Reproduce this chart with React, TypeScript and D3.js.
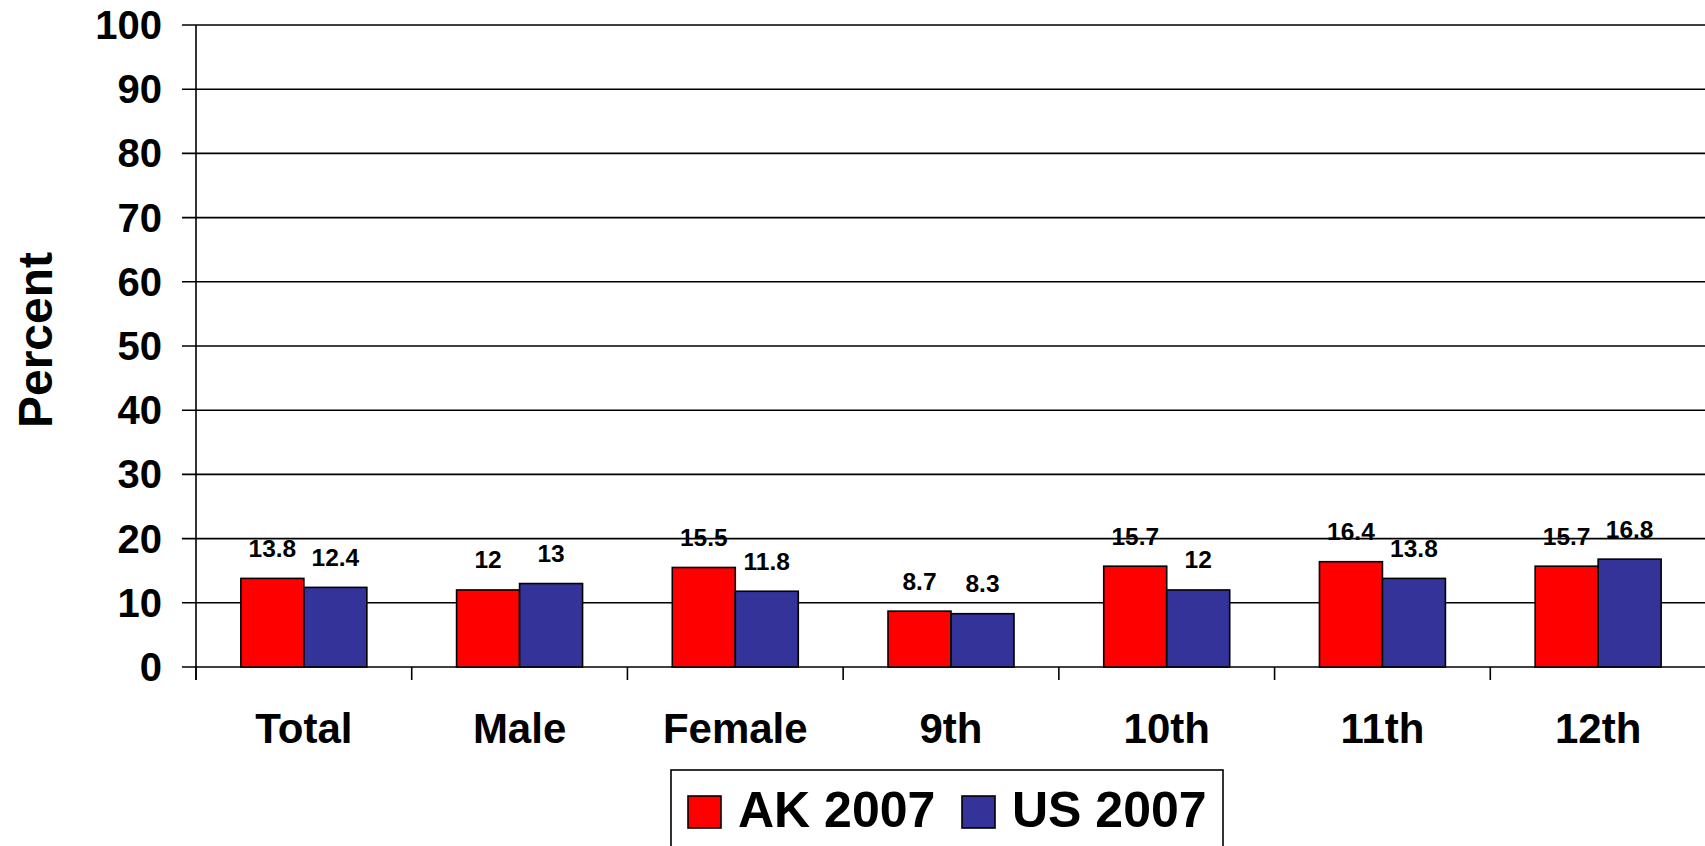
import React, { useEffect, useRef } from 'react'
import * as d3 from 'd3'

const categories = ['Total', 'Male', 'Female', '9th', '10th', '11th', '12th']
const seriesNames = ['AK 2007', 'US 2007']
const akValues = [13.8, 12, 15.5, 8.7, 15.7, 16.4, 15.7]
const usValues = [12.4, 13, 11.8, 8.3, 12, 13.8, 16.8]
const yTicks = [0, 10, 20, 30, 40, 50, 60, 70, 80, 90, 100]
const colors = ['#ff0000', '#333399']

const W = 1705
const H = 846
const FONT = 'Liberation Sans, Arial, Helvetica, sans-serif'

export default function App () {
	const ref = useRef<SVGSVGElement | null>(null)

	useEffect(() => {
		document.body.style.margin = '0'
		document.body.style.overflow = 'hidden'

		const svg = d3.select(ref.current)
		svg.selectAll('*').remove()

		const left = 196
		const right = 1706
		const top = 25
		const bottom = 667

		const x = d3.scaleBand()
			.domain(categories)
			.range([left, right])
			.paddingInner(0.416)
			.paddingOuter(0.208)

		const xs = d3.scaleBand()
			.domain(seriesNames)
			.range([0, x.bandwidth()])

		const y = d3.scaleLinear()
			.domain([0, 100])
			.range([bottom, top])

		// gridlines + y ticks
		const grid = svg.append('g')
		grid.selectAll('line')
			.data(yTicks)
			.enter()
			.append('line')
				.attr('x1', left - 14)
				.attr('x2', W)
				.attr('y1', d => y(d))
				.attr('y2', d => y(d))
				.attr('stroke', '#000')
				.attr('stroke-width', 1.6)

		grid.selectAll('text')
			.data(yTicks)
			.enter()
			.append('text')
				.attr('x', 162)
				.attr('y', d => y(d) + 14)
				.attr('text-anchor', 'end')
				.attr('font-family', FONT)
				.attr('font-weight', 'bold')
				.attr('font-size', 40)
				.text(d => d)

		// y axis line
		svg.append('line')
			.attr('x1', left).attr('x2', left)
			.attr('y1', top).attr('y2', bottom + 13)
			.attr('stroke', '#000')
			.attr('stroke-width', 1.6)

		// category ticks
		const step = x.step()
		svg.append('g')
			.selectAll('line')
			.data(d3.range(categories.length + 1))
			.enter()
			.append('line')
				.attr('x1', i => left + i * step)
				.attr('x2', i => left + i * step)
				.attr('y1', bottom)
				.attr('y2', bottom + 13)
				.attr('stroke', '#000')
				.attr('stroke-width', 1.6)

		const rows = categories.map((c, i) => [
			{ cat: c, s: seriesNames[0], v: akValues[i], color: colors[0] },
			{ cat: c, s: seriesNames[1], v: usValues[i], color: colors[1] }
		]).flat()

		// bars
		svg.append('g')
			.selectAll('rect')
			.data(rows)
			.enter()
			.append('rect')
				.attr('x', d => x(d.cat)! + xs(d.s)!)
				.attr('y', d => y(d.v))
				.attr('width', xs.bandwidth())
				.attr('height', d => bottom - y(d.v))
				.attr('fill', d => d.color)
				.attr('stroke', '#000')
				.attr('stroke-width', 1.6)

		// value labels
		svg.append('g')
			.selectAll('text')
			.data(rows)
			.enter()
			.append('text')
				.attr('x', d => x(d.cat)! + xs(d.s)! + xs.bandwidth() / 2)
				.attr('y', d => y(d.v) - 21.5)
				.attr('text-anchor', 'middle')
				.attr('font-family', FONT)
				.attr('font-weight', 'bold')
				.attr('font-size', 24.5)
				.text(d => d.v)

		// category labels
		svg.append('g')
			.selectAll('text')
			.data(categories)
			.enter()
			.append('text')
				.attr('x', d => x(d)! + x.bandwidth() / 2)
				.attr('y', 743)
				.attr('text-anchor', 'middle')
				.attr('font-family', FONT)
				.attr('font-weight', 'bold')
				.attr('font-size', 42)
				.text(d => d)

		// y title
		svg.append('text')
			.attr('transform', 'translate(52, 340) rotate(-90)')
			.attr('text-anchor', 'middle')
			.attr('font-family', FONT)
			.attr('font-weight', 'bold')
			.attr('font-size', 48)
			.text('Percent')

		// legend
		const legend = svg.append('g')
		legend.append('rect')
			.attr('x', 671).attr('y', 770)
			.attr('width', 552).attr('height', 100)
			.attr('fill', '#fff')
			.attr('stroke', '#000')
			.attr('stroke-width', 1.6)

		const items = legend.selectAll('g.item')
			.data(seriesNames)
			.enter()
			.append('g')
				.attr('class', 'item')
				.attr('transform', (d, i) => `translate(${i === 0 ? 688 : 962}, 796)`)

		items.append('rect')
			.attr('width', 33)
			.attr('height', 32)
			.attr('fill', (d, i) => colors[i])
			.attr('stroke', '#000')
			.attr('stroke-width', 1.6)

		items.append('text')
			.attr('x', 50)
			.attr('y', 31)
			.attr('font-family', FONT)
			.attr('font-weight', 'bold')
			.attr('font-size', 50)
			.text(d => d)
	}, [])

	return (
		<svg ref={ref} width={W} height={H} style={{ display: 'block', background: '#fff' }} />
	)
}
